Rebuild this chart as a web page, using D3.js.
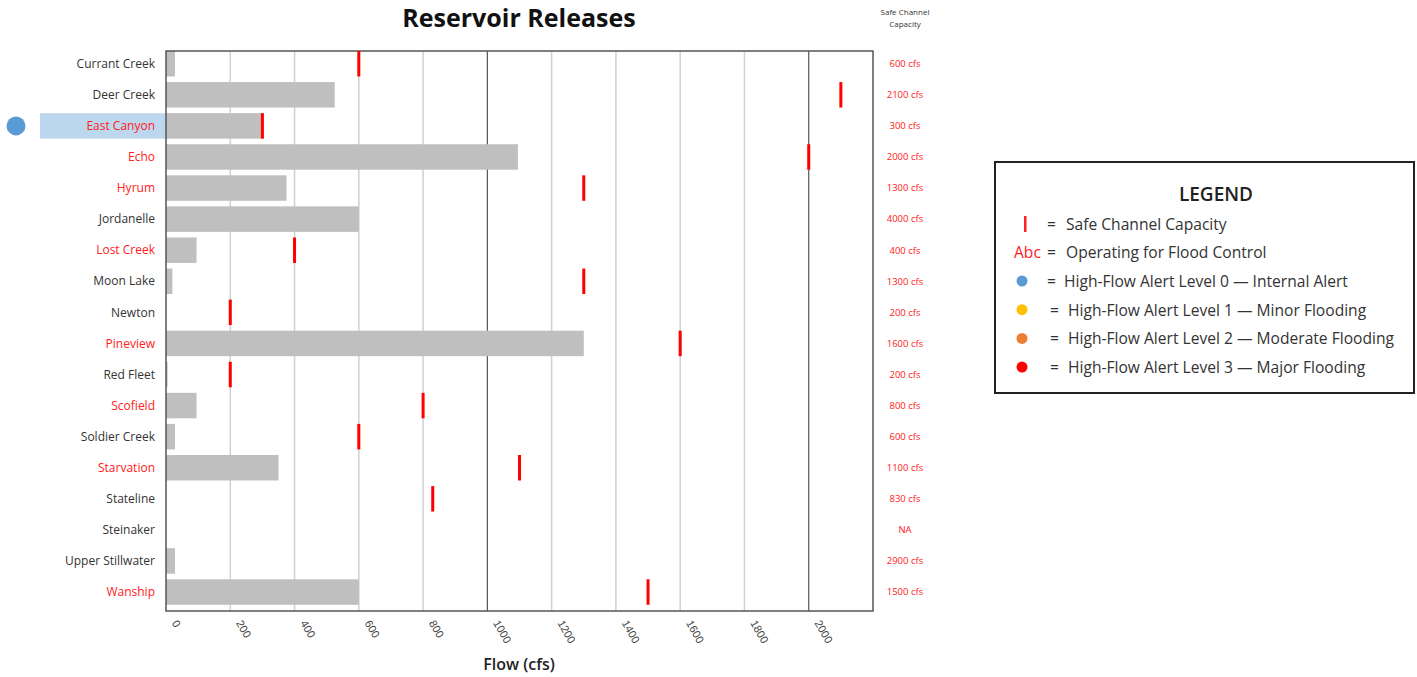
<!DOCTYPE html>
<html>
  <head>
    <title>Reservoir Releases</title>
    <style>
      body {margin:0; background:#fff;}
      svg {font-family:"Open Sans", sans-serif;}
      .title {font-size:25px; font-weight:700; fill:#111;}
      .resname {font-size:12px;}
      .cap {font-size:9.5px; fill:#ff2020;}
      .caphead {font-size:8px; fill:#333;}
      .tick text {font-size:11px; fill:#444;}
      .xlabel {font-size:16px; font-weight:600; fill:#222;}
      .legtitle {font-size:19px; font-weight:600; fill:#222;}
      .legtext {font-size:15.6px; fill:#333;}
    </style>
    <script src="https://cdn.jsdelivr.net/npm/d3@7"></script>
  </head>
  <body>
    <svg id="chart" width="1417" height="677"></svg>
    <script>
      // data
      var reservoirs = ["Currant Creek","Deer Creek","East Canyon","Echo","Hyrum","Jordanelle",
                        "Lost Creek","Moon Lake","Newton","Pineview","Red Fleet","Scofield",
                        "Soldier Creek","Starvation","Stateline","Steinaker","Upper Stillwater","Wanship"];
      var releases   = [28, 525, 300, 1095, 375, 600, 95, 20, 0, 1300, 5, 95, 28, 350, 0, 0, 28, 600];
      var capacity   = [600, 2100, 300, 2000, 1300, 4000, 400, 1300, 200, 1600, 200, 800, 600, 1100, 830, null, 2900, 1500];
      var floodCtrl  = [false,false,true,true,true,false,true,false,false,true,false,true,false,true,false,false,false,true];
      var alertLevel = [null,null,0,null,null,null,null,null,null,null,null,null,null,null,null,null,null,null];
      var xTicks     = [0,200,400,600,800,1000,1200,1400,1600,1800,2000];

      var alertColor = ["#5B9BD5","#FFC000","#ED7D31","#FF0000"];
      var legendItems = [
        "High-Flow Alert Level 0 \u2014 Internal Alert",
        "High-Flow Alert Level 1 \u2014 Minor Flooding",
        "High-Flow Alert Level 2 \u2014 Moderate Flooding",
        "High-Flow Alert Level 3 \u2014 Major Flooding"
      ];

      var margin = {top:51, left:166, right:873, bottom:611};
      var svg = d3.select("#chart");

      var x = d3.scaleLinear().domain([0, 2200]).range([margin.left, margin.right]);
      var y = d3.scaleBand().domain(reservoirs).range([margin.top, margin.bottom])
                .paddingInner(0.18).paddingOuter(0.1).align(0);

      var rows = reservoirs.map(function(d,i) {
        return {name:d, rel:releases[i], cap:capacity[i], flood:floodCtrl[i], alert:alertLevel[i]};
      });

      // highlight + alert dots
      var alerted = rows.filter(function(d) {return d.alert != null;});
      svg.selectAll(".hl").data(alerted).enter().append("rect")
         .attr("x", 40).attr("width", margin.left - 40)
         .attr("y", function(d) {return y(d.name);})
         .attr("height", y.bandwidth())
         .style("fill", "#BDD7EE");
      svg.selectAll(".dot").data(alerted).enter().append("circle")
         .attr("cx", 16).attr("cy", function(d) {return y(d.name) + y.bandwidth()/2;})
         .attr("r", 9.5)
         .style("fill", function(d) {return alertColor[d.alert];});

      // gridlines
      svg.selectAll(".grid").data(xTicks.slice(1)).enter().append("line")
         .attr("x1", function(d) {return x(d);}).attr("x2", function(d) {return x(d);})
         .attr("y1", margin.top).attr("y2", margin.bottom)
         .style("stroke", function(d) {return d % 1000 == 0 ? "#555" : "#d0d0d0";})
         .style("stroke-width", function(d) {return d % 1000 == 0 ? 1.2 : 1.5;});

      // bars
      svg.selectAll(".bar").data(rows).enter().append("rect")
         .attr("x", x(0))
         .attr("y", function(d) {return y(d.name);})
         .attr("width", function(d) {return x(d.rel) - x(0);})
         .attr("height", y.bandwidth())
         .style("fill", "#bfbfbf");

      // frame
      svg.append("rect")
         .attr("x", margin.left).attr("y", margin.top)
         .attr("width", margin.right - margin.left).attr("height", margin.bottom - margin.top)
         .style("fill", "none").style("stroke", "#555").style("stroke-width", 1.5);

      // safe channel capacity markers
      svg.selectAll(".cap-mark").data(rows.filter(function(d) {return d.cap != null && d.cap <= 2200;}))
         .enter().append("rect")
         .attr("x", function(d) {return x(d.cap) - 1.5;})
         .attr("y", function(d) {return y(d.name);})
         .attr("width", 3)
         .attr("height", y.bandwidth())
         .style("fill", "#ff0000");

      // reservoir names
      svg.selectAll(".resname").data(rows).enter().append("text")
         .attr("class", "resname")
         .attr("x", 155)
         .attr("y", function(d) {return y(d.name) + y.bandwidth()/2;})
         .attr("dy", "0.35em")
         .attr("text-anchor", "end")
         .style("fill", function(d) {return d.flood ? "#ff2020" : "#333";})
         .text(function(d) {return d.name;});

      // capacity labels on the right
      svg.append("text").attr("class","caphead").attr("x",905).attr("y",15).attr("text-anchor","middle").text("Safe Channel");
      svg.append("text").attr("class","caphead").attr("x",905).attr("y",27).attr("text-anchor","middle").text("Capacity");
      svg.selectAll(".cap").data(rows).enter().append("text")
         .attr("class", "cap")
         .attr("x", 905)
         .attr("y", function(d) {return y(d.name) + y.bandwidth()/2;})
         .attr("dy", "0.35em")
         .attr("text-anchor", "middle")
         .text(function(d) {return d.cap == null ? "NA" : d.cap + " cfs";});

      // x axis tick labels (rotated)
      var xAxis = d3.axisBottom(x).tickValues(xTicks).tickFormat(d3.format("d")).tickSize(0).tickPadding(0);
      var gx = svg.append("g").attr("transform", "translate(0," + margin.bottom + ")").call(xAxis);
      gx.select(".domain").remove();
      gx.selectAll(".tick text")
        .attr("text-anchor", "start")
        .attr("transform", "translate(5,12) rotate(60)")
        .attr("dy", "0").attr("y", 0);

      svg.append("text").attr("class","title").attr("x",519).attr("y",27).attr("text-anchor","middle").text("Reservoir Releases");
      svg.append("text").attr("class","xlabel").attr("x",519).attr("y",670).attr("text-anchor","middle").text("Flow (cfs)");

      // legend
      var lg = svg.append("g");
      lg.append("rect").attr("x",995).attr("y",162).attr("width",419).attr("height",231)
        .style("fill","#fff").style("stroke","#222").style("stroke-width",2);
      lg.append("text").attr("class","legtitle").attr("x",1216).attr("y",201).attr("text-anchor","middle").text("LEGEND");
      lg.append("rect").attr("x",1024).attr("y",216).attr("width",2.5).attr("height",16).style("fill","#ff2020");
      lg.append("text").attr("class","legtext").attr("x",1047).attr("y",230).text("=");
      lg.append("text").attr("class","legtext").attr("x",1066).attr("y",230).text("Safe Channel Capacity");
      lg.append("text").attr("class","legtext").attr("x",1014).attr("y",258).style("fill","#ff2020").text("Abc");
      lg.append("text").attr("class","legtext").attr("x",1047).attr("y",258).text("=");
      lg.append("text").attr("class","legtext").attr("x",1066).attr("y",258).text("Operating for Flood Control");
      lg.selectAll(".legdot").data(legendItems).enter().append("circle")
        .attr("cx", 1022).attr("cy", function(d,i) {return 281 + i*28.7;})
        .attr("r", 5.5)
        .style("fill", function(d,i) {return alertColor[i];});
      lg.selectAll(".legeq").data(legendItems).enter().append("text")
        .attr("class","legtext")
        .attr("x", function(d,i) {return i == 0 ? 1047 : 1050;})
        .attr("y", function(d,i) {return 287 + i*28.7;})
        .text("=");
      lg.selectAll(".legitem").data(legendItems).enter().append("text")
        .attr("class","legtext")
        .attr("x", function(d,i) {return i == 0 ? 1064 : 1068;})
        .attr("y", function(d,i) {return 287 + i*28.7;})
        .text(function(d) {return d;});
    </script>
  </body>
</html>
